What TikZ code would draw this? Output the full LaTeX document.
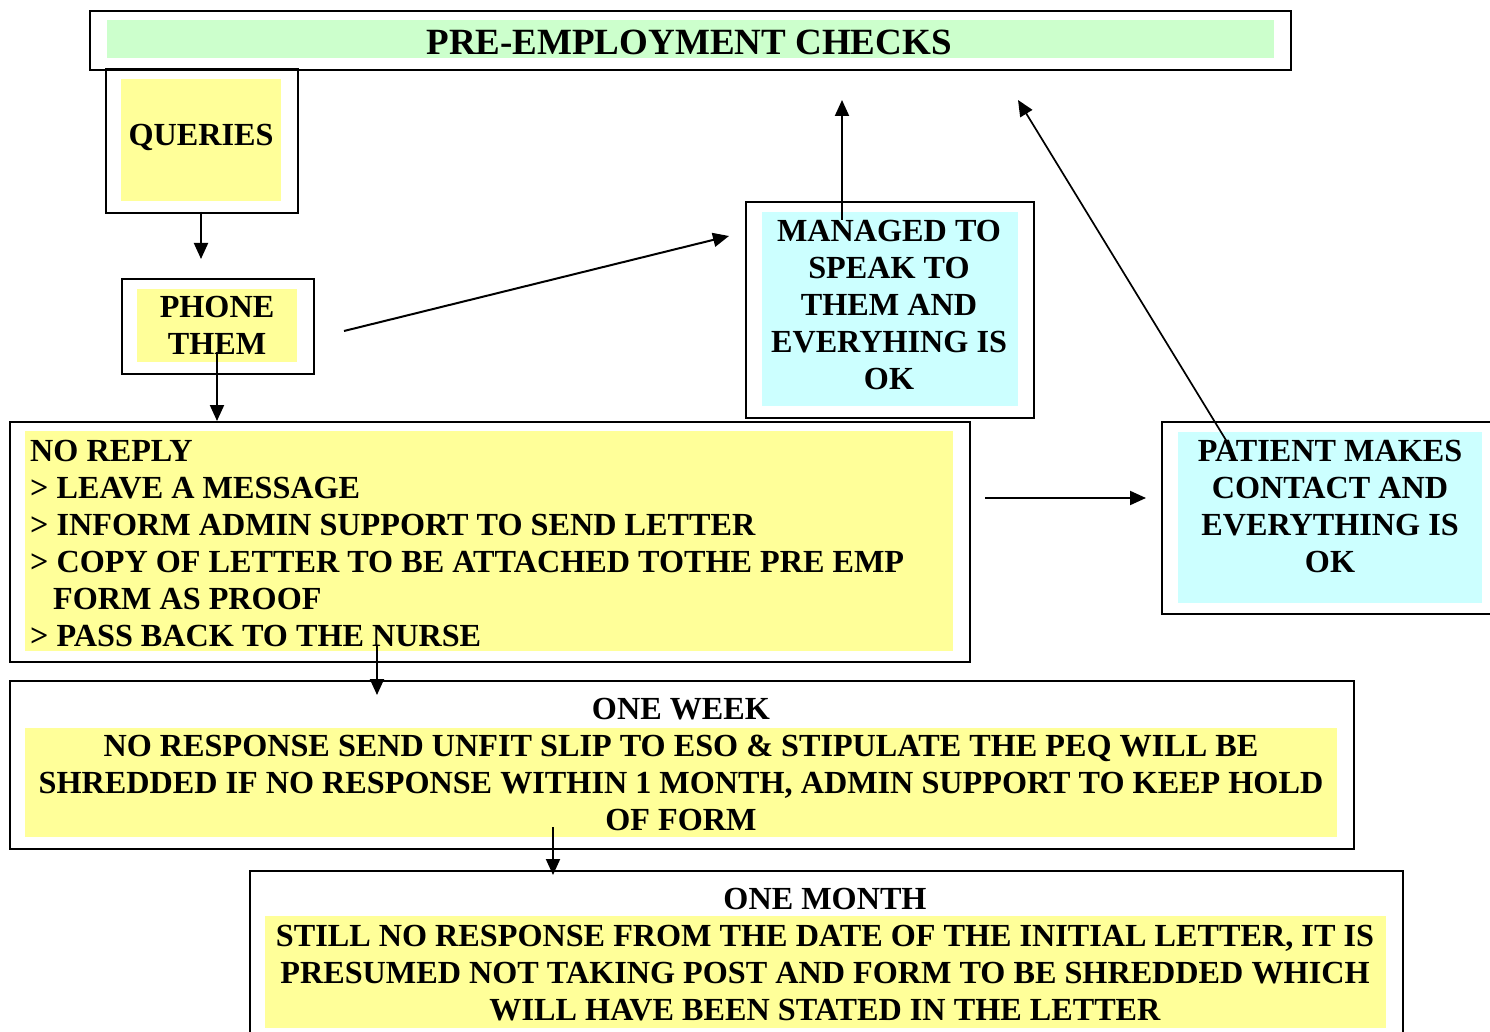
\documentclass[tikz,border=0pt]{standalone}
\usepackage{fontspec}
\setmainfont{Liberation Serif}
\usetikzlibrary{arrows.meta}
\definecolor{pgreen}{HTML}{CCFFCC}
\definecolor{pyellow}{HTML}{FFFF99}
\definecolor{pcyan}{HTML}{CCFFFF}
\begin{document}
\begin{tikzpicture}[x=1pt,y=-1pt,
  outer/.style={draw=black,line width=2pt,anchor=north west,inner sep=0pt},
  txt/.style={font=\bfseries\fontsize{32.2}{37}\selectfont,align=center,inner sep=0pt,anchor=north},
  ltxt/.style={font=\bfseries\fontsize{32.2}{37}\selectfont,align=left,inner sep=0pt,anchor=north west},
  arr/.style={-{Triangle[length=16pt,width=14pt]},line width=2pt}]
\useasboundingbox (0,0) rectangle (1490,1032);
% outer boxes
\node[outer,minimum width=1201pt,minimum height=59pt] (titlebox) at (89,10) {};
\node[outer,minimum width=192pt,minimum height=144pt] (qbox) at (105,68) {};
\node[outer,minimum width=192pt,minimum height=95pt] (pbox) at (121,278) {};
\node[outer,minimum width=288pt,minimum height=216pt] (mbox) at (745,201) {};
\node[outer,minimum width=960pt,minimum height=240pt] (nbox) at (9,421) {};
\node[outer,minimum width=340pt,minimum height=192pt] (patbox) at (1161,421) {};
\node[outer,minimum width=1344pt,minimum height=168pt] (wbox) at (9,680) {};
\node[outer,minimum width=1153pt,minimum height=200pt] (mobox) at (249,870) {};
% inner fills
\fill[pgreen] (107,20) rectangle (1274,58);
\fill[pyellow] (121,79) rectangle (281,201);
\fill[pyellow] (137,289) rectangle (297,362);
\fill[pcyan] (762,212) rectangle (1018,406);
\fill[pyellow] (25,431) rectangle (953,651);
\fill[pcyan] (1178,432) rectangle (1482,603);
\fill[pyellow] (25,728) rectangle (1337,837);
\fill[pyellow] (265,916) rectangle (1386,1028);
% texts
\node[txt,font=\bfseries\fontsize{37}{42}\selectfont] (title) at (689,30) {PRE-EMPLOYMENT CHECKS};
\node[txt] (queries) at (201,124) {QUERIES};
\node[txt] (phone) at (217,296) {PHONE\\THEM};
\node[txt] (managed) at (889,220) {MANAGED TO\\SPEAK TO\\THEM AND\\EVERYHING IS\\OK};
\node[ltxt] (noreply) at (30,440) {NO REPLY\\> LEAVE A MESSAGE\\> INFORM ADMIN SUPPORT TO SEND LETTER\\> COPY OF LETTER TO BE ATTACHED TOTHE PRE EMP\\\hspace*{23pt}FORM AS PROOF\\> PASS BACK TO THE NURSE};
\node[txt] (patient) at (1330,440) {PATIENT MAKES\\CONTACT AND\\EVERYTHING IS\\OK};
\node[txt] (week) at (681,698) {ONE WEEK\\NO RESPONSE SEND UNFIT SLIP TO ESO \& STIPULATE THE PEQ WILL BE\\SHREDDED IF NO RESPONSE WITHIN 1 MONTH, ADMIN SUPPORT TO KEEP HOLD\\OF FORM};
\node[txt] (month) at (825,888) {ONE MONTH\\STILL NO RESPONSE FROM THE DATE OF THE INITIAL LETTER, IT IS\\PRESUMED NOT TAKING POST AND FORM TO BE SHREDDED WHICH\\WILL HAVE BEEN STATED IN THE LETTER};
% connector end points
\coordinate (q1) at (201,212); \coordinate (q2) at (201,259);
\coordinate (p1) at (217,352); \coordinate (p2) at (217,421);
\coordinate (p3) at (344,331); \coordinate (m1) at (729,236);
\coordinate (m2) at (842,220); \coordinate (t1) at (842,100);
\coordinate (pa1) at (1232,450); \coordinate (t2) at (1018,100);
\coordinate (n1) at (985,498); \coordinate (pa2) at (1146,498);
\coordinate (n2) at (377,645); \coordinate (w1) at (377,695);
\coordinate (w2) at (553,827); \coordinate (mo1) at (553,875);
\draw[arr] (q1) -- (q2);
\draw[arr] (p1) -- (p2);
\draw[arr] (p3) -- (m1);
\draw[arr] (m2) -- (t1);
\draw[arr,line width=1.7pt] (pa1) -- (t2);
\draw[arr] (n1) -- (pa2);
\draw[arr] (n2) -- (w1);
\draw[arr] (w2) -- (mo1);
\end{tikzpicture}
\end{document}
